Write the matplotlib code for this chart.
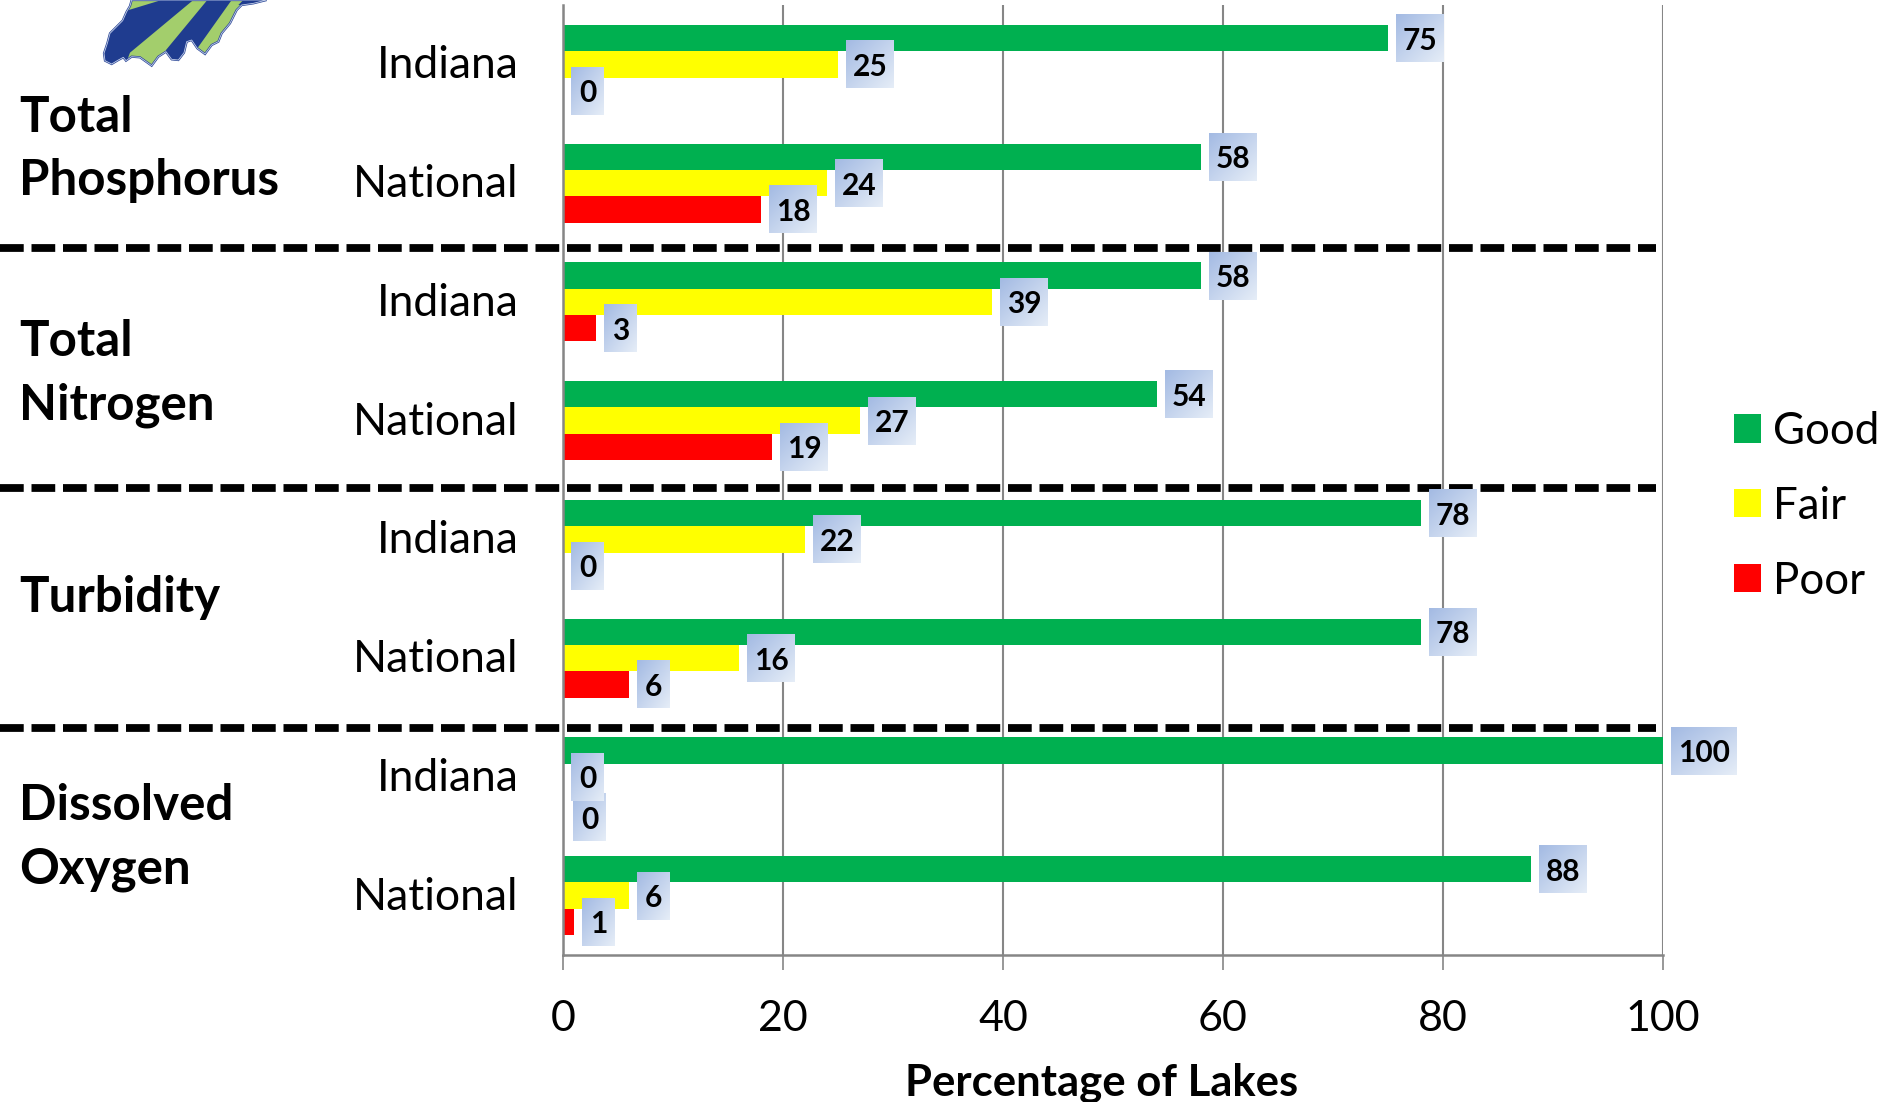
import numpy as np
import matplotlib
matplotlib.use('Agg')
import matplotlib.pyplot as plt
from matplotlib.patches import Polygon, Patch
from matplotlib.transforms import Affine2D

plt.rcParams['font.family'] = ['Lato', 'DejaVu Sans']

W, H = 1882, 1102

groups = ['Indiana', 'National'] * 4
good = [75, 58, 58, 54, 78, 78, 100, 88]
fair = [25, 24, 39, 27, 22, 16, 0, 6]
poor = [0, 18, 3, 19, 0, 6, 0, 1]
x_ticks = [0, 20, 40, 60, 80, 100]
series_names = ['Good', 'Fair', 'Poor']
series_colors = ['#00B050', '#FFFF00', '#FF0000']
indicators = [['Total', 132], ['Phosphorus', 195],
              ['Total', 356], ['Nitrogen', 419],
              ['Turbidity', 612],
              ['Dissolved', 820], ['Oxygen', 883]]

GRID = '#868686'
bar_h = 0.2217

fig = plt.figure(figsize=(W / 100, H / 100), dpi=100)
ax = fig.add_axes([563 / W, 1 - 955 / H, 1100 / W, 950 / H])
ax.set_xlim(0, 100)
ax.set_ylim(8, 0)
ax.set_axisbelow(True)
ax.grid(axis='x', color=GRID, lw=1.5)

rows = np.arange(8) + 0.5
handles = []
for k, (vals, col, name) in enumerate(zip([good, fair, poor], series_colors, series_names)):
    ax.barh(rows + (k - 1) * bar_h, vals, height=bar_h, color=col, lw=0)
    handles.append(Patch(color=col, lw=0, label=name))

ax.set_xticks(x_ticks)
ax.set_yticks(rows)
ax.set_yticklabels(groups, fontsize=32, va='center_baseline')
ax.tick_params(axis='x', length=11, width=1.2, color=GRID, labelsize=31, pad=21.5)
ax.tick_params(axis='y', length=0, pad=33)
# row names sit slightly above the centre of their bars
for lab in ax.get_yticklabels():
    lab.set_transform(lab.get_transform() + Affine2D().translate(1.5, 2.4))
ax.set_xlabel('Percentage of Lakes', fontsize=31.4, fontweight='bold')
ax.xaxis.set_label_coords(0.49, -0.1474, transform=ax.transAxes)
ax.xaxis.label.set_va('baseline')
for s in ['top', 'right']:
    ax.spines[s].set_visible(False)
for s in ['left', 'bottom']:
    ax.spines[s].set_color(GRID)
    ax.spines[s].set_linewidth(1.8)

ax.legend(handles=handles, loc='upper left', bbox_to_anchor=(1734 / W, 1 - 411 / H),
          bbox_transform=fig.transFigure, frameon=False, fontsize=31.6,
          handlelength=0.615, handleheight=0.615, handletextpad=0.27,
          labelspacing=0.77, borderpad=0, borderaxespad=0)

# overlay in pixel coordinates for the logo, separators and value tags
ov = fig.add_axes([0, 0, 1, 1], facecolor='none')
ov.axis('off')

for y in [248, 488, 728]:
    ov.plot([0, 1656], [y, y], color='black', lw=5.6, dashes=(3.05, 1.0),
            dash_capstyle='butt')

# gradient behind the value tags
t = np.linspace(0, 1, 40)
gx, gy = np.meshgrid(t, t)
mix = ((gx + gy) / 2)[:, :, None]
tag_img = np.array([0.64, 0.73, 0.89]) * (1 - mix) + np.array([0.90, 0.93, 0.97]) * mix

# the last Indiana tag sits a little lower and to the right so it clears the one above
nudges = {(6, 2): (2, 14)}

for k in [2, 1, 0]:
    vals = [good, fair, poor][k]
    for i, v in enumerate(vals):
        px, py = ax.transData.transform((v, rows[i] + (k - 1) * bar_h))
        py = H - py
        dx, dy = nudges.get((i, k), (0, 0))
        label = str(v)
        bw = {1: 33, 2: 48, 3: 66}[len(label)]
        x0 = px + 8 + dx
        yc = py + dy
        z = 5 + (2 - k) * 0.1 + i * 0.01
        ov.imshow(tag_img, extent=[x0, x0 + bw, yc + 24, yc - 24], aspect='auto',
                  interpolation='bilinear', zorder=z)
        ov.text(x0 + bw / 2, yc + 11.5, label, ha='center', va='baseline', fontsize=21.5,
                fontweight='bold', color='black', zorder=z + 0.001)

# state logo, cut off by the top edge
outline = [(125, 0), (120, 18), (110, 35), (98, 62), (75, 85), (60, 100), (52, 130), (42, 160),
           (45, 182), (65, 192), (85, 180), (100, 172), (108, 182), (125, 170), (150, 172),
           (185, 197), (205, 170), (228, 155), (245, 178), (265, 180), (282, 158), (290, 125),
           (305, 120), (322, 145), (345, 162), (365, 135), (385, 125), (395, 100), (420, 70),
           (440, 30), (455, 15), (490, 10), (530, 0)]
stripes = [[(100, 35), (215, 0), (310, 0), (120, 158), (100, 210), (20, 210), (20, 60)],
           [(352, 0), (425, 0), (322, 145), (300, 210), (228, 210), (228, 150)],
           [(445, 15), (460, 0), (540, 0), (540, 20)]]


def logo_xy(pts):
    return [(90 + a / 3, b / 3) for a, b in pts]


body = Polygon(logo_xy(outline), closed=True, facecolor='#A3CE6C', edgecolor='#2A4596',
               lw=1.6, zorder=3)
ov.add_patch(body)
for s in stripes:
    p = Polygon(logo_xy(s), closed=True, facecolor='#1F3C8F', edgecolor='none', zorder=3.1)
    ov.add_patch(p)
    p.set_clip_path(body)
# pale inner contour along the border of the state
ov.add_patch(Polygon(logo_xy(outline), closed=True, facecolor='none', edgecolor='#C4D0EA',
                     lw=0.6, zorder=3.2))

for txt, base in indicators:
    ov.text(19, base, txt, fontsize=35.5, fontweight='bold', ha='left', va='baseline', color='black')

ov.set_xlim(0, W)
ov.set_ylim(H, 0)

fig.savefig('out.png', dpi=100)
